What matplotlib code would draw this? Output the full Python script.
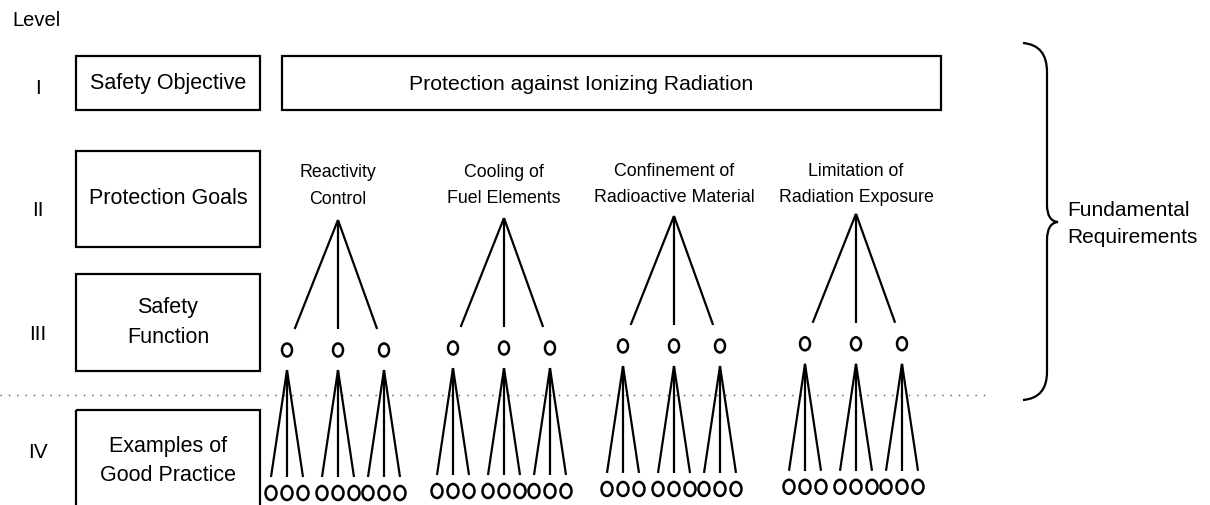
import matplotlib.pyplot as plt
from matplotlib.patches import Rectangle, Ellipse, PathPatch
from matplotlib.path import Path

plt.rcParams['font.family'] = ['Liberation Sans', 'DejaVu Sans']

# diagram content
levels = ["I", "II", "III", "IV"]
level_boxes = ["Safety Objective", "Protection Goals", "Safety\nFunction", "Examples of\nGood Practice"]
objective = "Protection against Ionizing Radiation"
goals = ["Reactivity\nControl", "Cooling of\nFuel Elements",
         "Confinement of\nRadioactive Material", "Limitation of\nRadiation Exposure"]
functions_per_goal = 3
practices_per_function = 3
side_label = "Fundamental\nRequirements"

# layout (pixel units, y downward)
level_y = [88, 210, 335, 453]
box_rows = [(56, 110), (151, 247), (274, 371), (410, 512)]
goal_x = [338, 504, 674, 856]
func_dx = [-51, 0, 46]
leaf_dx = [-16, 0, 16]

fig = plt.figure(figsize=(12.1, 5.05), dpi=100)
ax = fig.add_axes([0, 0, 1, 1])
ax.set_xlim(0, 1210)
ax.set_ylim(505, 0)
ax.axis("off")

lw = 1.6
ax.text(37, 21, "Level", ha="center", va="center", fontsize=14.5)
for lab, y in zip(levels, level_y):
    ax.text(38, y, lab, ha="center", va="center", fontsize=15)

for lab, (y0, y1) in zip(level_boxes, box_rows):
    ax.add_patch(Rectangle((76, y0), 184, y1 - y0, fill=False, lw=lw, ec="black"))
    ax.text(168, (y0 + y1) / 2, lab, ha="center", va="center", fontsize=15.5, linespacing=1.55)

ax.add_patch(Rectangle((282, 56), 659, 54, fill=False, lw=lw, ec="black"))
ax.text(581, 85, objective, ha="center", va="center", fontsize=15.3)

# dotted separator between level III and IV
ax.plot([0, 990], [395, 395], ls=(0, (1, 5)), color="0.35", lw=1)

def tilt(x):
    return -0.012 * (x - 338)

for g, gx in zip(goals, goal_x):
    t = tilt(gx)
    ax.text(gx, 186 + t * 0.3, g, ha="center", va="center", fontsize=12.8, linespacing=1.7)
    apex = (gx, 220 + t)
    for k in range(functions_per_goal):
        cx = gx + func_dx[k]
        cy = 350 + t
        ex = apex[0] + 0.85 * (cx - apex[0])
        ax.plot([apex[0], ex], [apex[1], 329 + t], color="black", lw=lw, solid_capstyle="butt")
        ax.add_patch(Ellipse((cx, cy), 10, 13, fill=False, lw=1.8, ec="black"))
        # good-practice fan
        top = 370 + t
        for j in range(practices_per_function):
            lx = cx + leaf_dx[j]
            ax.plot([cx, lx], [top, 477 + t], color="black", lw=lw, solid_capstyle="butt")
            ax.add_patch(Ellipse((lx, 493 + t), 11, 14, fill=False, lw=1.8, ec="black"))

# curly brace
verts = [(1023, 43), (1047, 45), (1047, 72), (1047, 205), (1047, 221), (1058, 222),
         (1047, 223), (1047, 240), (1047, 372), (1047, 398), (1023, 400)]
codes = [Path.MOVETO, Path.CURVE3, Path.CURVE3, Path.LINETO, Path.CURVE3, Path.CURVE3,
         Path.CURVE3, Path.CURVE3, Path.LINETO, Path.CURVE3, Path.CURVE3]
ax.add_patch(PathPatch(Path(verts, codes), fill=False, lw=lw, ec="black"))
ax.text(1067, 224, side_label, ha="left", va="center", fontsize=15, linespacing=1.55)

fig.savefig("out.png", dpi=100)
